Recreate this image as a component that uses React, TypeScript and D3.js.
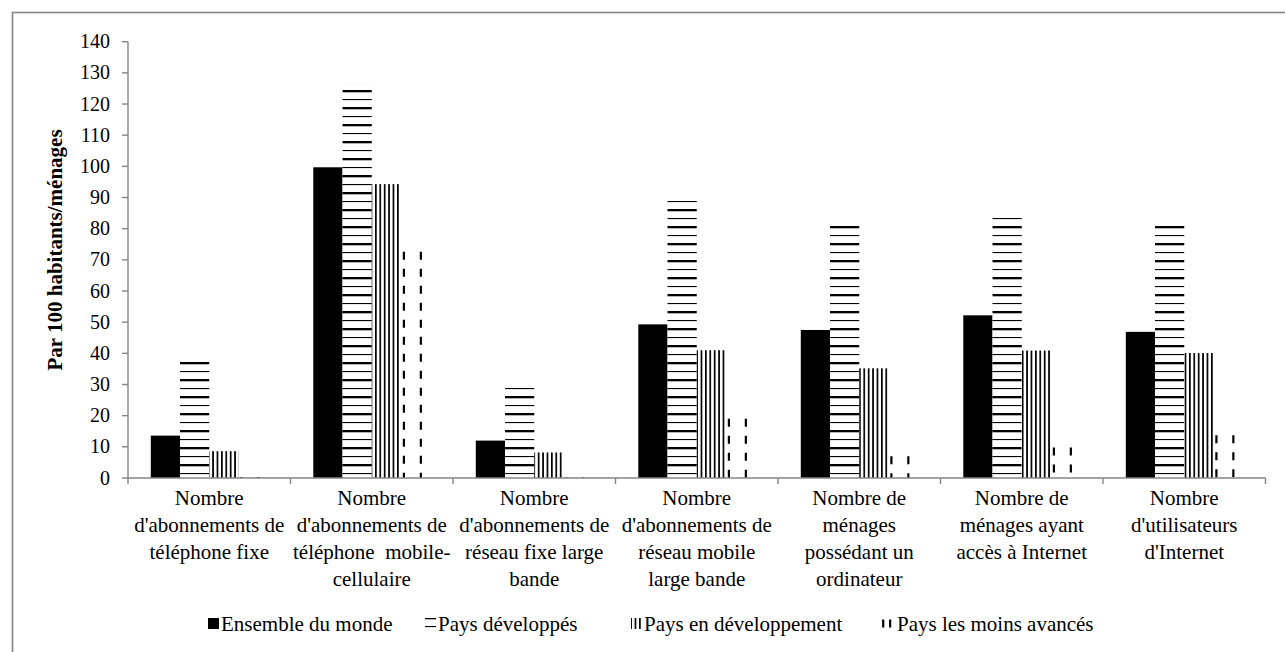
import * as d3 from 'd3';

// --- data ---
const categories = ['fixe', 'mobile', 'fixeLB', 'mobileLB', 'ordinateur', 'internetMenages', 'utilisateurs'];
const categoryLabels = [
  ['Nombre', "d'abonnements de", 'téléphone fixe'],
  ['Nombre', "d'abonnements de", 'téléphone  mobile-', 'cellulaire'],
  ['Nombre', "d'abonnements de", 'réseau fixe large', 'bande'],
  ['Nombre', "d'abonnements de", 'réseau mobile', 'large bande'],
  ['Nombre de', 'ménages', 'possédant un', 'ordinateur'],
  ['Nombre de', 'ménages ayant', 'accès à Internet'],
  ['Nombre', "d'utilisateurs", "d'Internet"],
];
const seriesNames = ['Ensemble du monde', 'Pays développés', 'Pays en développement', 'Pays les moins avancés'];
const ensemble = [13.6, 99.7, 12.0, 49.3, 47.5, 52.2, 46.9];
const developpes = [37.3, 126.5, 29.3, 89.0, 81.0, 83.6, 81.0];
const enDeveloppement = [8.6, 94.3, 8.2, 41.0, 35.2, 40.9, 40.1];
const moinsAvances = [0.8, 73.1, 0.7, 19.5, 7.5, 10.3, 14.2];
const yTicks = [0, 10, 20, 30, 40, 50, 60, 70, 80, 90, 100, 110, 120, 130, 140];

const seriesValues = [ensemble, developpes, enDeveloppement, moinsAvances];
const fills = ['#000', 'url(#hstripe)', 'url(#vstripe)', 'none'];

const FONT = "'Liberation Serif', 'Times New Roman', serif";
const AXIS = '#868686';

function DashedColumns({ x, y, w, h }: { x: number; y: number; w: number; h: number }) {
  // two dashed vertical strokes, like the Excel "dashed vertical" fill
  return (
    <g>
      {[0.1, 0.68].map((f, i) => (
        <line key={i} x1={x + w * f} x2={x + w * f} y1={y} y2={y + h}
          stroke="#000" strokeWidth={2.2} strokeDasharray="8 9" strokeDashoffset={-1.5} />
      ))}
    </g>
  );
}

export default function App() {
  const y = d3.scaleLinear().domain([0, 140]).range([478, 41.7]);
  const x = d3.scaleBand<string>().domain(categories).range([128, 1265.5]).padding(0);
  const xs = d3.scaleBand<string>().domain(seriesNames).range([0, x.bandwidth()]).paddingOuter(0.78).paddingInner(0);
  const bw = xs.bandwidth();

  const legendX = [208, 425, 631, 882];
  const legendY = 631;

  return (
    <div style={{ position: 'absolute', left: 0, top: 0, width: 1285, height: 652, overflow: 'hidden', background: '#fff' }}>
      <svg width={1285} height={652} style={{ display: 'block' }} fontFamily={FONT}>
        <defs>
          <pattern id="hstripe" patternUnits="userSpaceOnUse" width={10} height={17} y={6}>
            <rect width={10} height={17} fill="#fff" />
            <rect y={-1.2} width={10} height={2.5} fill="#000" />
            <rect y={16} width={10} height={2.5} fill="#000" />
            <rect y={8} width={10} height={1.1} fill="#000" />
          </pattern>
          <pattern id="vstripe" patternUnits="userSpaceOnUse" width={4.4} height={10} x={1}>
            <rect width={4.4} height={10} fill="#fff" />
            <rect width={1.7} height={10} fill="#000" />
          </pattern>
        </defs>

        <rect x={12.5} y={12.5} width={1400} height={800} fill="none" stroke={AXIS} strokeWidth={1.6} />

        {/* y axis */}
        <line x1={128} x2={128} y1={y(140)} y2={y(0)} stroke={AXIS} strokeWidth={1.4} />
        {yTicks.map(t => (
          <g key={t}>
            <line x1={122} x2={128} y1={y(t)} y2={y(t)} stroke={AXIS} strokeWidth={1.4} />
            <text x={110} y={y(t)} dy="0.33em" textAnchor="end" fontSize={20} fill="#000">{t}</text>
          </g>
        ))}
        <text transform="translate(62,250) rotate(-90)" textAnchor="middle"
          fontSize={21} fontWeight="bold" fill="#000">Par 100 habitants/ménages</text>

        {/* bars */}
        {categories.map((c, ci) => (
          <g key={c}>
            {seriesNames.map((s, si) => {
              const v = seriesValues[si][ci];
              const bx = (x(c) ?? 0) + (xs(s) ?? 0);
              const by = y(v);
              const bh = y(0) - y(v);
              if (si === 3) return <DashedColumns key={s} x={bx} y={by} w={bw} h={bh} />;
              return <rect key={s} x={bx} y={by} width={bw} height={bh} fill={fills[si]} />;
            })}
          </g>
        ))}

        {/* x axis */}
        <line x1={128} x2={1265.5} y1={y(0)} y2={y(0)} stroke={AXIS} strokeWidth={1.4} />
        {[...categories.map(c => x(c) ?? 0), 1265.5].map((px, i) => (
          <line key={i} x1={px} x2={px} y1={y(0)} y2={y(0) + 6} stroke={AXIS} strokeWidth={1.4} />
        ))}
        {categories.map((c, ci) => (
          <text key={c} textAnchor="middle" fontSize={21} fill="#000">
            {categoryLabels[ci].map((line, li) => (
              <tspan key={li} x={(x(c) ?? 0) + x.bandwidth() / 2} y={505 + li * 27} style={{ whiteSpace: 'pre' }}>{line}</tspan>
            ))}
          </text>
        ))}

        {/* legend */}
        {seriesNames.map((s, si) => {
          const lx = legendX[si];
          const top = legendY - 13;
          return (
            <g key={s}>
              {si < 3 && <rect x={lx} y={top} width={11} height={11} fill={fills[si]} />}
              {si === 3 && <DashedColumns x={lx} y={top} w={12} h={12} />}
              <text x={si === 3 ? lx + 15 : lx + 13} y={legendY} fontSize={21} fill="#000">{s}</text>
            </g>
          );
        })}
      </svg>
    </div>
  );
}
